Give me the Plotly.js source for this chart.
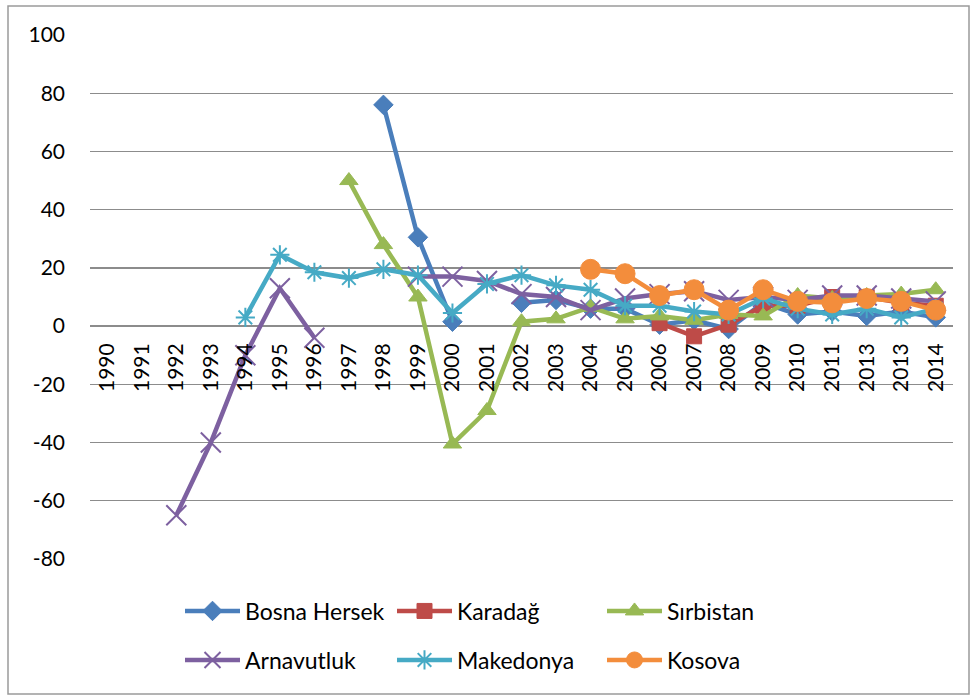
<!DOCTYPE html>
<html>
<head>
<meta charset="utf-8">
<script src="https://cdn.plot.ly/plotly-3.0.1.min.js"></script>
<style>html,body{margin:0;padding:0;background:#fff;}#chart{width:976px;height:697px;}</style>
</head>
<body>
<div id="chart"></div>
<script>
var years = ["1990","1991","1992","1993","1994","1995","1996","1997","1998","1999","2000","2001","2002","2003","2004","2005","2006","2007","2008","2009","2010","2011","2013","2013","2014"];
var idx = years.map(function(_, i){ return i; });
var N = null;
var bosnaHersek = [N,N,N,N,N,N,N,N,76,30.5,1.5,N,8,9,6,6,0.5,2,-1,8,4,5,3.5,5,3];
var karadag     = [N,N,N,N,N,N,N,N,N,N,N,N,N,N,N,N,1,-3.5,0.5,7,7,10,10,8,7];
var sirbistan   = [N,N,N,N,N,N,N,50,28,10,-40.5,-29,1.5,2.5,6.5,2.5,3.5,2,4,3.5,10.5,9.5,10.5,11,12.5];
var arnavutluk  = [N,N,-65,-40,-10,13,-4,N,N,17,17,15.5,11,10,5.5,9.5,11,12,9,10,9,10.5,10.5,9.5,8.5];
var makedonya   = [N,N,N,N,3,24.5,18.5,16.5,19.5,17.5,4.5,14.5,17.5,14,12.5,7,7,5,4,9.5,6,4,6,3,6];
var kosova      = [N,N,N,N,N,N,N,N,N,N,N,N,N,N,19.5,18,10.5,12.5,5.5,12.5,8.5,8,9.5,8.5,5.5];
var yTicks = [-80,-60,-40,-20,0,20,40,60,80,100];
var yTickText = ["-80","-60","-40","-20","0","20","40","60","80","100"];

var legendPos = [[185,611],[397,611],[607,611],[185,660],[397,660],[607,660]];
var plotL = 90, plotR = 953, plotT = 35, plotB = 559;
var pw = plotR - plotL, ph = plotB - plotT;

function tr(i, name, y, color, sym, size, lw){
  return {x: idx, y: y, name: name, type: 'scatter', mode: 'lines+markers',
    connectgaps: false, line: {color: color, width: 4.5},
    legend: i === 0 ? 'legend' : 'legend' + (i + 1),
    marker: {symbol: sym, size: size, color: color, line: {color: color, width: lw || 1}}};
}
var data = [
  tr(0, 'Bosna Hersek', bosnaHersek, '#4A7EBB', 'diamond', 15),
  tr(1, 'Karadağ', karadag, '#BE4B48', 'square', 15),
  tr(2, 'Sırbistan', sirbistan, '#98B954', 'triangle-up', 16),
  tr(3, 'Arnavutluk', arnavutluk, '#7D60A0', 'x-thin-open', 20, 2),
  tr(4, 'Makedonya', makedonya, '#46AAC5', 'asterisk-open', 16, 2),
  tr(5, 'Kosova', kosova, '#F38D3C', 'circle', 20)
];
var layout = {
  width: 976, height: 697,
  margin: {l: plotL, r: 976 - plotR, t: plotT, b: 697 - plotB, pad: 0},
  paper_bgcolor: '#fff', plot_bgcolor: '#fff',
  font: {family: 'Lato, "Open Sans", sans-serif', size: 21, color: '#000'},
  showlegend: true,
  xaxis: {
    range: [-0.5, 24.5], tickmode: 'array', tickvals: idx, ticktext: years,
    tickangle: -90, showgrid: false, zeroline: false, showline: false,
    anchor: 'free', position: 80/180, ticks: '', ticklabelstandoff: 12,
    tickfont: {size: 21}
  },
  yaxis: {
    range: [-80, 100], tickmode: 'array', tickvals: yTicks, ticktext: yTickText,
    showgrid: true, gridcolor: '#8c8c8c', gridwidth: 1.3,
    zeroline: true, zerolinecolor: '#8c8c8c', zerolinewidth: 1.3,
    showline: false, ticks: '', ticklabelstandoff: 24, tickfont: {size: 21}
  },
  shapes: [{
    type: 'rect', xref: 'paper', yref: 'paper',
    x0: (8-plotL)/pw, x1: (969-plotL)/pw, y0: -(694-plotB)/ph, y1: 1 + (plotT-6)/ph,
    line: {color: '#9a9a9a', width: 1.5}, fillcolor: 'rgba(0,0,0,0)', layer: 'below'
  }]
};
legendPos.forEach(function(p, i){
  var key = i === 0 ? 'legend' : 'legend' + (i + 1);
  layout[key] = {
    x: (p[0] - 5 - plotL) / pw, y: -(p[1] - plotB) / ph,
    xanchor: 'left', yanchor: 'middle', orientation: 'h', itemwidth: 55,
    font: {size: 23}, bgcolor: 'rgba(0,0,0,0)', borderwidth: 0
  };
});
Plotly.newPlot('chart', data, layout, {displayModeBar: false, staticPlot: true});
</script>
</body>
</html>
